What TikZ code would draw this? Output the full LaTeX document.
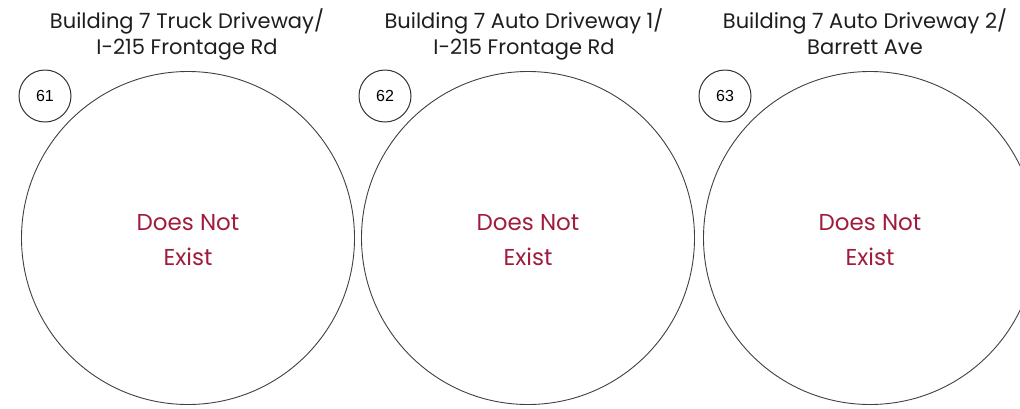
\documentclass[tikz,border=0pt]{standalone}
\usepackage{fontspec}
\setmainfont{Poppins}
\newfontfamily\numfont{Liberation Sans}
\definecolor{dne}{RGB}{160,28,62}
\definecolor{ttl}{RGB}{30,30,30}
\begin{document}
\begin{tikzpicture}[x=1pt,y=-1pt,
  big/.style={circle,draw=black!75,line width=0.9pt,minimum size=333pt,inner sep=0pt},
  num/.style={circle,draw=black!80,line width=1pt,minimum size=52pt,inner sep=0pt,font=\numfont\fontsize{16}{18}\selectfont},
  ttlstyle/.style={anchor=north,align=center,text=ttl,font=\fontsize{21}{26.5}\selectfont,inner sep=0pt},
  dnestyle/.style={align=center,text=dne,font=\fontsize{23}{35}\selectfont,inner sep=0pt}]
\useasboundingbox (0,0) rectangle (1020,408);
\node[big] (c1) at (188,238) {};
\node[big] (c2) at (528,238) {};
\node[big] (c3) at (870,238) {};
\node[num] (n1) at (45,96) {61};
\node[num] (n2) at (385,96) {62};
\node[num] (n3) at (725,96) {63};
\node[ttlstyle] (t1) at (187,8.5) {Building 7 Truck Driveway/\\I-215 Frontage Rd};
\node[ttlstyle] (t2) at (524,8.5) {Building 7 Auto Driveway 1/\\I-215 Frontage Rd};
\node[ttlstyle] (t3) at (865,8.5) {Building 7 Auto Driveway 2/\\Barrett Ave};
\node[dnestyle] (d1) at (188,240) {Does Not\\Exist};
\node[dnestyle] (d2) at (528,240) {Does Not\\Exist};
\node[dnestyle] (d3) at (870,240) {Does Not\\Exist};
\end{tikzpicture}
\end{document}
